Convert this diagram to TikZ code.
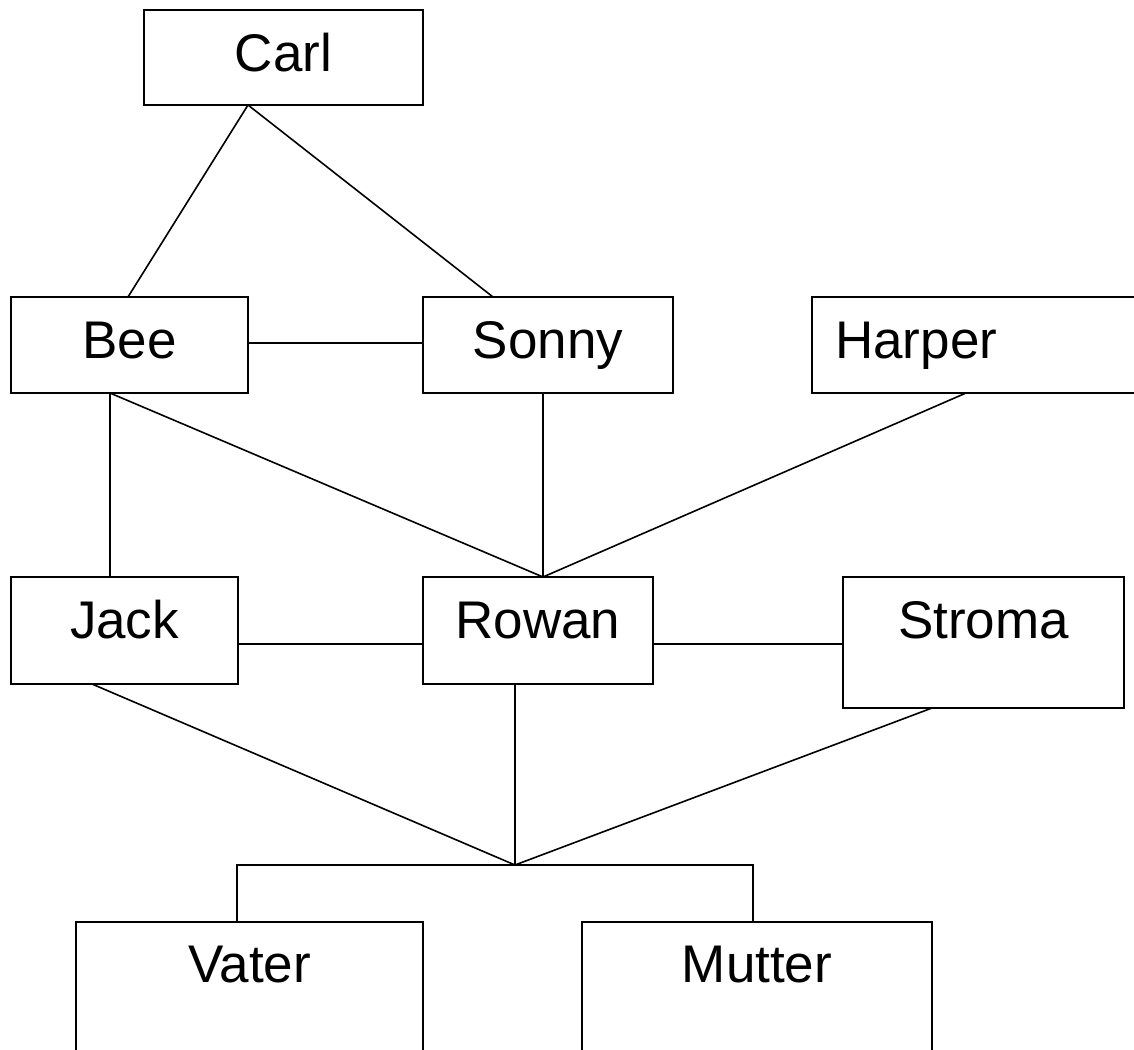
\documentclass[tikz,border=0pt]{standalone}
\usepackage{fontspec}
\setmainfont{Liberation Sans}
\begin{document}
\begin{tikzpicture}[x=1pt,y=-1pt,
  box/.style={draw=black, line width=1.6pt, fill=white, inner sep=0pt, outer sep=0pt, anchor=north west},
  lbl/.style={inner sep=0pt, anchor=base, font=\fontsize{53}{60}\selectfont},
  link/.style={draw=black, line width=1.6pt}]
\clip (0,0) rectangle (1134,1049);
\fill[white] (0,0) rectangle (1134,1049);
% boxes
\node[box, minimum width=279pt, minimum height=95pt] (carl) at (144,10) {};
\node[box, minimum width=237pt, minimum height=96pt] (bee) at (11,297) {};
\node[box, minimum width=250pt, minimum height=96pt] (sonny) at (423,297) {};
\node[box, minimum width=400pt, minimum height=96pt] (harper) at (812,297) {};
\node[box, minimum width=227pt, minimum height=107pt] (jack) at (11,577) {};
\node[box, minimum width=230pt, minimum height=107pt] (rowan) at (423,577) {};
\node[box, minimum width=281pt, minimum height=131pt] (stroma) at (843,577) {};
\node[box, minimum width=347pt, minimum height=200pt] (vater) at (76,922) {};
\node[box, minimum width=350pt, minimum height=200pt] (mutter) at (582,922) {};
% labels
\node[lbl] (carlt) at ([yshift=-61pt]carl.north) {Carl};
\node[lbl] (beet) at ([yshift=-61pt]bee.north) {Bee};
\node[lbl] (sonnyt) at ([yshift=-61pt]sonny.north) {Sonny};
\node[lbl, anchor=base west] (harpert) at ([xshift=23pt,yshift=-61pt]harper.north west) {Harper};
\node[lbl] (jackt) at ([yshift=-61pt]jack.north) {Jack};
\node[lbl] (rowant) at ([yshift=-61pt]rowan.north) {Rowan};
\node[lbl] (stromat) at ([yshift=-61pt]stroma.north) {Stroma};
\node[lbl] (vatert) at ([yshift=-60pt,xshift=0pt]vater.north) {Vater};
\node[lbl] (muttert) at ([yshift=-60pt]mutter.north) {Mutter};
% junction
\coordinate (j) at (515,865);
% connectors
\draw[link] ([xshift=104pt]carl.south west) -- ([xshift=117pt]bee.north west);
\draw[link] ([xshift=104pt]carl.south west) -- ([xshift=70pt]sonny.north west);
\draw[link] ([yshift=-46pt]bee.north east) -- ([yshift=-46pt]sonny.north west);
\draw[link] ([xshift=99pt]bee.south west) -- ([xshift=99pt]jack.north west);
\draw[link] ([xshift=99pt]bee.south west) -- ([xshift=120pt]rowan.north west);
\draw[link] ([xshift=120pt]sonny.south west) -- ([xshift=120pt]rowan.north west);
\draw[link] ([xshift=154pt]harper.south west) -- ([xshift=120pt]rowan.north west);
\draw[link] ([yshift=-67pt]jack.north east) -- ([yshift=-67pt]rowan.north west);
\draw[link] ([yshift=-67pt]rowan.north east) -- ([yshift=-67pt]stroma.north west);
\draw[link] ([xshift=81pt]jack.south west) -- (j);
\draw[link] ([xshift=92pt]rowan.south west) -- (j);
\draw[link] ([xshift=89pt]stroma.south west) -- (j);
\draw[link] ([xshift=161pt]vater.north west) |- (j) -| ([xshift=171pt]mutter.north west);
\end{tikzpicture}
\end{document}
